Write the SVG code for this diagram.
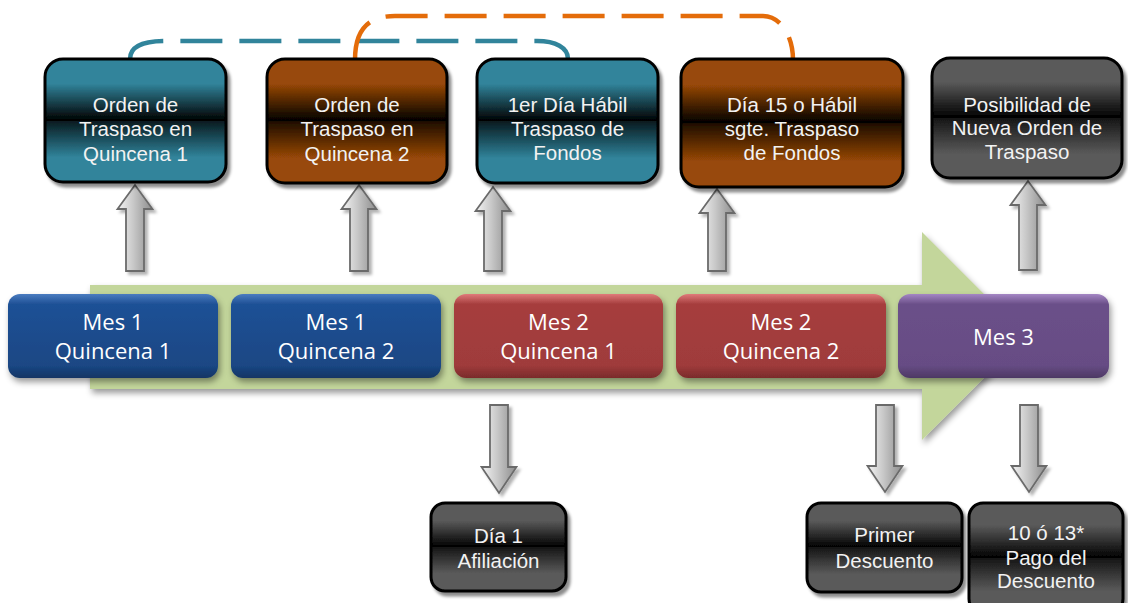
<svg xmlns="http://www.w3.org/2000/svg" width="1128" height="603" viewBox="0 0 1128 603">
<defs>
<style>
.tb{stroke:#000;stroke-width:3}
.tt{font-family:"Liberation Sans",Arial,sans-serif;font-size:20.5px;fill:#f2f2f2;text-anchor:middle}
.mt{font-family:"Open Sans","Liberation Sans",sans-serif;font-size:22px;fill:#fff;text-anchor:middle}
.ar{fill:url(#gArr);stroke:#6b6b6b;stroke-width:1.8;filter:url(#shA)}
.dash{fill:none;stroke-width:4.5;stroke-dasharray:42 17}
</style>
<filter id="sh" x="-10%" y="-10%" width="130%" height="140%"><feDropShadow dx="3" dy="4" stdDeviation="1.5" flood-color="#000" flood-opacity="0.45"/></filter>
<filter id="shM" x="-10%" y="-10%" width="130%" height="140%"><feDropShadow dx="2" dy="4" stdDeviation="3" flood-color="#000" flood-opacity="0.4"/></filter>
<filter id="shA" x="-30%" y="-10%" width="170%" height="130%"><feDropShadow dx="3" dy="3" stdDeviation="1.5" flood-color="#000" flood-opacity="0.3"/></filter>
<linearGradient id="gTeal" x1="0" y1="0" x2="0" y2="1">
<stop offset="0" stop-color="#31849b"/><stop offset="0.2" stop-color="#31849b"/><stop offset="0.5" stop-color="#000"/><stop offset="0.5" stop-color="#07191e"/><stop offset="0.8" stop-color="#31849b"/><stop offset="1" stop-color="#31849b"/>
</linearGradient>
<linearGradient id="gOr" x1="0" y1="0" x2="0" y2="1">
<stop offset="0" stop-color="#984807"/><stop offset="0.2" stop-color="#984807"/><stop offset="0.5" stop-color="#000"/><stop offset="0.5" stop-color="#1d0d01"/><stop offset="0.8" stop-color="#984807"/><stop offset="1" stop-color="#984807"/>
</linearGradient>
<linearGradient id="gGr" x1="0" y1="0" x2="0" y2="1">
<stop offset="0" stop-color="#5a5a5a"/><stop offset="0.2" stop-color="#5a5a5a"/><stop offset="0.5" stop-color="#000"/><stop offset="0.5" stop-color="#151515"/><stop offset="0.8" stop-color="#5a5a5a"/><stop offset="1" stop-color="#5a5a5a"/>
</linearGradient>
<linearGradient id="gBlue" x1="0" y1="0" x2="0" y2="1">
<stop offset="0" stop-color="#4a7cc0"/><stop offset="0.12" stop-color="#1f5196"/><stop offset="0.85" stop-color="#1a4784"/><stop offset="1" stop-color="#123564"/>
</linearGradient>
<linearGradient id="gRed" x1="0" y1="0" x2="0" y2="1">
<stop offset="0" stop-color="#e07a7a"/><stop offset="0.12" stop-color="#a63e3e"/><stop offset="0.85" stop-color="#9f3b3b"/><stop offset="1" stop-color="#7a2b2b"/>
</linearGradient>
<linearGradient id="gPur" x1="0" y1="0" x2="0" y2="1">
<stop offset="0" stop-color="#a486c4"/><stop offset="0.12" stop-color="#6b5089"/><stop offset="0.85" stop-color="#664c84"/><stop offset="1" stop-color="#4d3864"/>
</linearGradient>
<linearGradient id="gArr" x1="0" y1="0" x2="1" y2="0">
<stop offset="0" stop-color="#f4f4f4"/><stop offset="0.45" stop-color="#c8c8c8"/><stop offset="1" stop-color="#8c8c8c"/>
</linearGradient>
</defs>
<rect width="1128" height="603" fill="#fff"/>

<g id="timeline-arrow">
<path d="M90,285 L922,285 L922,232 L1026,336 L922,440 L922,389 L90,389 Z" fill="#c3d69b" filter="url(#shM)"/>
</g>

<g id="connectors">
<path class="dash" stroke="#31849b" d="M130,59 C130,46 145,41 165,41 L537,41 C556,41 568,48 568,59"/>
<path class="dash" stroke="#e46c0a" d="M355,60 C355,32 366,16 395,16 L763,16 C780,16 793,35 793,60"/>
<path class="ar" d="M126,271 L126,209 L117.5,209 L135,185 L152.5,209 L144,209 L144,271 Z"/>
<path class="ar" d="M350,271 L350,209 L341.5,209 L359,185 L376.5,209 L368,209 L368,271 Z"/>
<path class="ar" d="M484,271 L484,211 L475.5,211 L493,187 L510.5,211 L502,211 L502,271 Z"/>
<path class="ar" d="M708,271 L708,213 L699.5,213 L717,189 L734.5,213 L726,213 L726,271 Z"/>
<path class="ar" d="M1019,270 L1019,205 L1010.5,205 L1028,181 L1045.5,205 L1037,205 L1037,270 Z"/>
<path class="ar" d="M490,405 L490,467 L481.5,467 L499,493 L516.5,467 L508,467 L508,405 Z"/>
<path class="ar" d="M876,405 L876,466 L867.5,466 L885,492 L902.5,466 L894,466 L894,405 Z"/>
<path class="ar" d="M1020,405 L1020,466 L1011.5,466 L1029,492 L1046.5,466 L1038,466 L1038,405 Z"/>
</g>

<g id="top1">
<rect class="tb" x="45" y="59" width="181" height="123" rx="18" fill="url(#gTeal)" filter="url(#sh)"/>
<text class="tt" x="135.5" y="112">Orden de</text><text class="tt" x="135.5" y="136">Traspaso en</text><text class="tt" x="135.5" y="161">Quincena 1</text>
</g>
<g id="top2">
<rect class="tb" x="267" y="59" width="180" height="124" rx="18" fill="url(#gOr)" filter="url(#sh)"/>
<text class="tt" x="357" y="112">Orden de</text><text class="tt" x="357" y="136">Traspaso en</text><text class="tt" x="357" y="161">Quincena 2</text>
</g>
<g id="top3">
<rect class="tb" x="477" y="59" width="181" height="124" rx="18" fill="url(#gTeal)" filter="url(#sh)"/>
<text class="tt" x="567.5" y="112">1er Día Hábil</text><text class="tt" x="567.5" y="136">Traspaso de</text><text class="tt" x="567.5" y="160">Fondos</text>
</g>
<g id="top4">
<rect class="tb" x="681" y="59" width="222" height="128" rx="18" fill="url(#gOr)" filter="url(#sh)"/>
<text class="tt" x="792" y="112">Día 15 o Hábil</text><text class="tt" x="792" y="136">sgte. Traspaso</text><text class="tt" x="792" y="160">de Fondos</text>
</g>
<g id="top5">
<rect class="tb" x="932" y="58" width="190" height="120" rx="18" fill="url(#gGr)" filter="url(#sh)"/>
<text class="tt" x="1027" y="112">Posibilidad de</text><text class="tt" x="1027" y="135">Nueva Orden de</text><text class="tt" x="1027" y="159">Traspaso</text>
</g>

<g id="mes1q1">
<rect x="8" y="294" width="210" height="84" rx="12" fill="url(#gBlue)" filter="url(#shM)"/>
<text class="mt" x="113" y="330">Mes 1</text><text class="mt" x="113" y="359">Quincena 1</text>
</g>
<g id="mes1q2">
<rect x="231" y="294" width="210" height="84" rx="12" fill="url(#gBlue)" filter="url(#shM)"/>
<text class="mt" x="336" y="330">Mes 1</text><text class="mt" x="336" y="359">Quincena 2</text>
</g>
<g id="mes2q1">
<rect x="454" y="294" width="209" height="84" rx="12" fill="url(#gRed)" filter="url(#shM)"/>
<text class="mt" x="558.5" y="330">Mes 2</text><text class="mt" x="558.5" y="359">Quincena 1</text>
</g>
<g id="mes2q2">
<rect x="676" y="294" width="210" height="84" rx="12" fill="url(#gRed)" filter="url(#shM)"/>
<text class="mt" x="781" y="330">Mes 2</text><text class="mt" x="781" y="359">Quincena 2</text>
</g>
<g id="mes3">
<rect x="898" y="294" width="211" height="84" rx="12" fill="url(#gPur)" filter="url(#shM)"/>
<text class="mt" x="1003.5" y="345">Mes 3</text>
</g>

<g id="bot1">
<rect class="tb" x="431" y="503" width="135" height="88" rx="14" fill="url(#gGr)" filter="url(#sh)"/>
<text class="tt" x="498.5" y="543">Día 1</text><text class="tt" x="498.5" y="568">Afiliación</text>
</g>
<g id="bot2">
<rect class="tb" x="807" y="503" width="155" height="89" rx="14" fill="url(#gGr)" filter="url(#sh)"/>
<text class="tt" x="884.5" y="542">Primer</text><text class="tt" x="884.5" y="568">Descuento</text>
</g>
<g id="bot3">
<rect class="tb" x="969" y="503" width="154" height="110" rx="14" fill="url(#gGr)" filter="url(#sh)"/>
<text class="tt" x="1046" y="540">10 ó 13*</text><text class="tt" x="1046" y="565">Pago del</text><text class="tt" x="1046" y="588">Descuento</text>
</g>
</svg>
